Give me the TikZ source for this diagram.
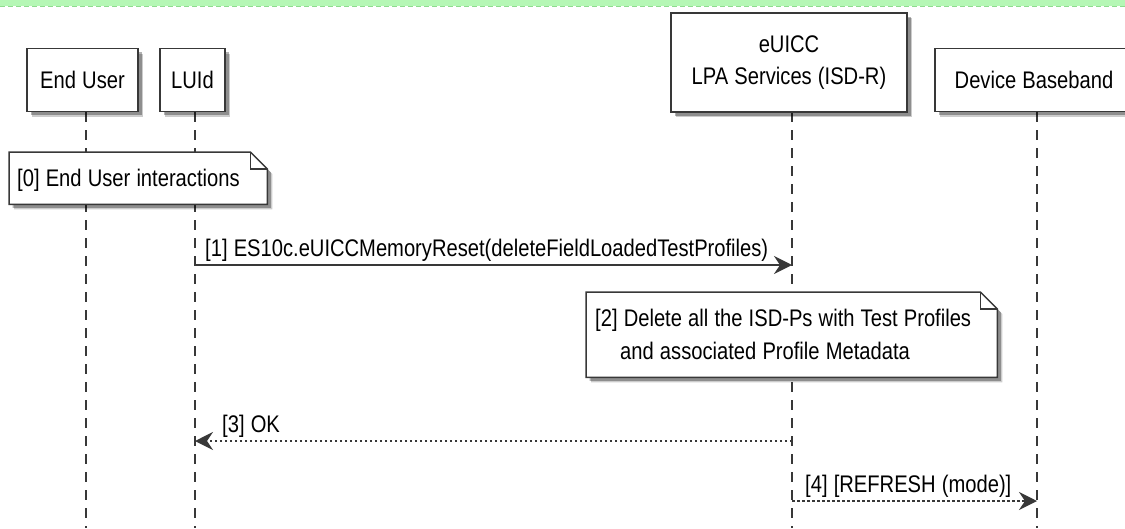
\documentclass[tikz,border=0pt]{standalone}
\usepackage{fontspec}
\setmainfont{Liberation Sans}[FakeStretch=0.84, WordSpace=1.1]
\usetikzlibrary{arrows.meta,shadows,calc}
\definecolor{band}{HTML}{B5F7B5}
\definecolor{bandline}{HTML}{8EDC8E}
\definecolor{ink}{HTML}{383838}
\pgfdeclarelayer{back}
\pgfdeclarelayer{mid}
\pgfsetlayers{back,mid,main}
\tikzset{
  shad/.style={drop shadow={shadow xshift=5pt, shadow yshift=-5pt, fill=black, opacity=0.2},
    drop shadow={shadow xshift=3.5pt, shadow yshift=-3.5pt, fill=black, opacity=0.3}},
  part/.style={draw=ink, line width=1.7pt, fill=white, inner sep=0pt, minimum height=63pt, shad},
  life/.style={draw=ink, line width=1.2pt, dash pattern=on 10pt off 8pt},
  notebox/.style={draw=ink, line width=1.5pt, fill=white, line join=miter, shad},
  noteframe/.style={inner sep=0pt, anchor=north west},
  notetext/.style={inner sep=0pt, align=left, anchor=west},
  msg/.style={draw=ink, line width=1.5pt, -{Stealth[length=18pt, width=18pt, inset=6pt]}},
  reply/.style={msg, dash pattern=on 2.5pt off 2.5pt},
  lbl/.style={inner sep=0pt, anchor=base west}
}
\begin{document}
\begin{tikzpicture}[x=1pt, y=-1pt, font=\fontsize{24}{33}\selectfont]
\useasboundingbox (0,0) rectangle (1125,528);
\fill[band] (0,0) rectangle (1125,6);
\draw[bandline, line width=1pt, dash pattern=on 5pt off 3pt] (0,6) -- (1125,6);

% participants
\node[part, minimum width=111pt] (eu) at (82.5,80) {End User};
\node[part, minimum width=65pt] (luid) at (192.5,80) {LUId};
\node[part, minimum width=236pt, minimum height=99pt, align=center, font=\fontsize{24}{32}\selectfont] (euicc) at (789,62.5) {eUICC\\LPA Services (ISD-R)};
\node[part, minimum width=198pt] (db) at (1034,80) {Device Baseband};

% lifelines
\coordinate (euT) at (86,112);   \coordinate (euE) at (86,528);
\coordinate (luT) at (195,112);  \coordinate (luE) at (195,528);
\coordinate (ecT) at (792,112);  \coordinate (ecE) at (792,528);
\coordinate (dbT) at (1037,112); \coordinate (dbE) at (1037,528);
\begin{pgfonlayer}{back}
\draw[life] (euT) -- (euE);
\draw[life] (luT) -- (luE);
\draw[life] (ecT) -- (ecE);
\draw[life] (dbT) -- (dbE);
\end{pgfonlayer}

% note 0
\node[noteframe, minimum width=258pt, minimum height=52pt] (n0) at (9,152) {};
\node[notetext] (t0) at ($(n0.west)+(8,2)$) {[0] End User interactions};
\begin{pgfonlayer}{mid}
\draw[notebox] (n0.north west) -- ($(n0.north east)+(-17,0)$) -- ($(n0.north east)+(0,17)$) -- (n0.south east) -- (n0.south west) -- cycle;
\draw[ink, line width=1.4pt] ($(n0.north east)+(-17,0)$) |- ($(n0.north east)+(0,17)$);
\end{pgfonlayer}

% message 1
\coordinate (m1s) at (195,265);
\coordinate (m1e) at (792,265);
\draw[msg] (m1s) -- (m1e);
\node[lbl] (l1) at (205,256) {[1] ES10c.eUICCMemoryReset(deleteFieldLoadedTestProfiles)};

% note 2
\node[noteframe, minimum width=411pt, minimum height=85pt] (n2) at (586,292) {};
\node[notetext] (t2) at ($(n2.west)+(9,0)$) {[2] Delete all the ISD-Ps with Test Profiles\\\hspace*{25pt}and associated Profile Metadata};
\begin{pgfonlayer}{mid}
\draw[notebox] (n2.north west) -- ($(n2.north east)+(-17,0)$) -- ($(n2.north east)+(0,17)$) -- (n2.south east) -- (n2.south west) -- cycle;
\draw[ink, line width=1.4pt] ($(n2.north east)+(-17,0)$) |- ($(n2.north east)+(0,17)$);
\end{pgfonlayer}

% message 3
\coordinate (m3s) at (792,441);
\coordinate (m3e) at (195,441);
\draw[reply] (m3s) -- (m3e);
\node[lbl] (l3) at (222,432) {[3] OK};

% message 4
\coordinate (m4s) at (792,501);
\coordinate (m4e) at (1037,501);
\draw[reply] (m4s) -- (m4e);
\node[lbl] (l4) at (805,492) {[4] [REFRESH (mode)]};
\end{tikzpicture}
\end{document}
